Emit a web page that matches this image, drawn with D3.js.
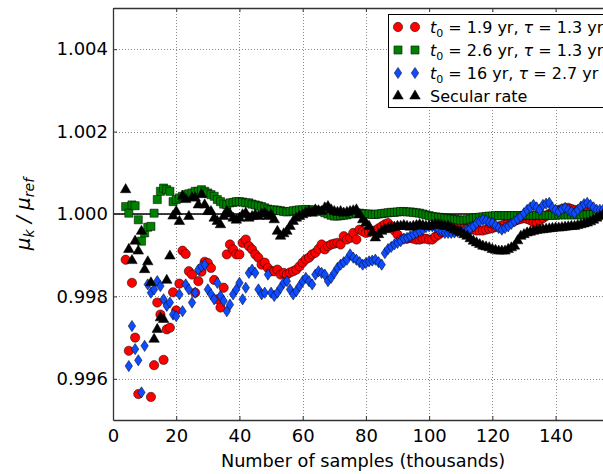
<!DOCTYPE html>
<html>
<head>
<meta charset="utf-8">
<script src="https://cdn.jsdelivr.net/npm/d3@7"></script>
<style>
  body { margin: 0; background: #fff; }
  svg { font-family: "DejaVu Sans", sans-serif; }
</style>
</head>
<body>
<div id="chart"></div>
<script>
// sample counts (thousands)
let samples = [4, 5, 6, 7, 8, 9, 10, 11, 12, 13, 14, 15, 16, 17, 18, 19, 20, 21, 22, 23, 24, 25, 26, 27, 28, 29,
  30, 31, 32, 33, 34, 35, 36, 37, 38, 39, 40, 41, 42, 43, 44, 45, 46, 47, 48, 49, 50, 51, 52, 53, 54, 55, 56, 57,
  58, 59, 60, 61, 62, 63, 64, 65, 66, 67, 68, 69, 70, 71, 72, 73, 74, 75, 76, 77, 78, 79, 80, 81, 82, 83, 84, 85,
  86, 87, 88, 89, 90, 91, 92, 93, 94, 95, 96, 97, 98, 99, 100, 101, 102, 103, 104, 105, 106, 107, 108, 109, 110,
  111, 112, 113, 114, 115, 116, 117, 118, 119, 120, 121, 122, 123, 124, 125, 126, 127, 128, 129, 130, 131, 132,
  133, 134, 135, 136, 137, 138, 139, 140, 141, 142, 143, 144, 145, 146, 147, 148, 149, 150, 151, 152, 153, 154, 155];

// t0 = 1.9 yr, tau = 1.3 yr
let redValues = [0.99889, 0.99668, 0.99833, 0.99700, 0.99563, null, null, null, 0.99556, 0.99633,
  0.99785, 0.99756, 0.99646, 0.99720, 0.99724, 0.99810, 0.99766, 0.99831, 0.99911, 0.99903, 0.99861, 0.99853,
  0.99809, 0.99837, 0.99860, 0.99884, 0.99881, 0.99869, 0.99840, 0.99793, 0.99773, 0.99821, 0.99902, 0.99926,
  0.99914, 0.99902, 0.99902, 0.99930, 0.99938, 0.99922, 0.99914, 0.99902, 0.99894, 0.99877, 0.99882, 0.99869,
  0.99861, 0.99861, 0.99865, 0.99853, 0.99857, 0.99853, 0.99858, 0.99861, 0.99865, 0.99873, 0.99882, 0.99890,
  0.99894, 0.99902, 0.99906, 0.99915, 0.99926, 0.99914, 0.99922, 0.99926, 0.99928, 0.99930, 0.99926, 0.99946,
  0.99938, 0.99942, 0.99954, 0.99938, 0.99962, 0.99958, 0.99954, 0.99956, 0.99958, 0.99960, 0.99965, 0.99970,
  0.99975, 0.99978, 0.99970, 0.99960, 0.99950, 0.99938, 0.99940, 0.99940, 0.99942, 0.99940, 0.99938, 0.99938,
  0.99940, 0.99940, 0.99938, 0.99938, 0.99945, 0.99950, 0.99955, 0.99960, 0.99965, 0.99970, 0.99970, 0.99970,
  0.99968, 0.99966, 0.99964, 0.99962, 0.99962, 0.99960, 0.99960, 0.99960, 0.99962, 0.99964, 0.99966, 0.99968,
  0.99970, 0.99972, 0.99975, 0.99978, 0.99980, 0.99983, 0.99986, 0.99988, 0.99990, 0.99988, 0.99985, 0.99980,
  0.99978, 0.99985, 0.99990, 0.99995, 1.00000, 1.00005, 1.00008, 1.00010, 1.00012, 1.00014, 1.00015, 1.00012,
  1.00010, 1.00008, 1.00006, 1.00005, 1.00004, 1.00003, 1.00002, 1.00001, 1.00000, 1.00000];

// t0 = 2.6 yr, tau = 1.3 yr
let greenValues = [1.00018, 1.00002, 1.00022, 1.00020, 0.99986, 0.99934, 0.99954, 0.99968, 0.99970, 1.00002,
  1.00035, 1.00055, 1.00063, 1.00059, 1.00055, 1.00030, 1.00035, 1.00039, 1.00043, 1.00047, 1.00049, 1.00051,
  1.00055, 1.00055, 1.00059, 1.00055, 1.00051, 1.00047, 1.00043, 1.00035, 1.00030, 1.00024, 1.00022, 1.00027,
  1.00028, 1.00030, 1.00030, 1.00029, 1.00027, 1.00027, 1.00024, 1.00022, 1.00020, 1.00018, 1.00015, 1.00012,
  1.00010, 1.00010, 1.00009, 1.00008, 1.00006, 1.00005, 1.00006, 1.00008, 1.00009, 1.00010, 1.00010, 1.00011,
  1.00010, 1.00010, 1.00009, 1.00008, 1.00006, 1.00003, 1.00000, 0.99997, 0.99995, 0.99995, 0.99996, 0.99997,
  0.99998, 1.00000, 1.00001, 1.00002, 1.00002, 1.00001, 1.00000, 1.00000, 0.99999, 0.99999, 1.00000, 1.00001,
  1.00002, 1.00003, 1.00004, 1.00004, 1.00005, 1.00006, 1.00006, 1.00005, 1.00005, 1.00004, 1.00003, 1.00002,
  1.00000, 0.99998, 0.99996, 0.99994, 0.99993, 0.99992, 0.99991, 0.99990, 0.99989, 0.99988, 0.99987, 0.99986,
  0.99985, 0.99985, 0.99986, 0.99988, 0.99990, 0.99991, 0.99992, 0.99993, 0.99994, 0.99995, 0.99995, 0.99996,
  0.99996, 0.99996, 0.99996, 0.99996, 0.99996, 0.99996, 0.99996, 0.99996, 0.99996, 0.99997, 0.99997, 0.99997,
  0.99997, 0.99997, 0.99997, 0.99997, 0.99997, 0.99997, 0.99997, 0.99998, 0.99998, 0.99998, 0.99998, 0.99998,
  0.99998, 0.99998, 0.99998, 0.99998, 0.99998, 0.99999, 0.99999, 1.00000, 1.00000, 1.00000];

// t0 = 16 yr, tau = 2.7 yr
let blueValues = [null, 0.99631, 0.99728, 0.99672, 0.99645, 0.99567, 0.99680, 0.99829, 0.99809, 0.99817,
  0.99837, 0.99825, 0.99793, 0.99777, 0.99785, 0.99756, 0.99752, 0.99805, 0.99764, 0.99829, 0.99817, 0.99785,
  0.99809, 0.99865, 0.99873, 0.99877, 0.99817, 0.99805, 0.99793, 0.99833, 0.99801, 0.99789, 0.99764, 0.99780,
  0.99805, 0.99817, 0.99833, 0.99793, 0.99821, 0.99857, 0.99865, 0.99857, 0.99817, 0.99805, 0.99809, 0.99853,
  0.99809, 0.99801, 0.99809, 0.99821, 0.99833, 0.99837, 0.99817, 0.99805, 0.99813, 0.99825, 0.99837, 0.99845,
  0.99837, 0.99829, 0.99853, 0.99861, 0.99857, 0.99853, 0.99837, 0.99845, 0.99857, 0.99869, 0.99877, 0.99883,
  0.99889, 0.99902, 0.99894, 0.99889, 0.99883, 0.99877, 0.99881, 0.99885, 0.99887, 0.99889, 0.99883, 0.99877,
  0.99905, 0.99915, 0.99920, 0.99926, 0.99930, 0.99934, 0.99940, 0.99942, 0.99946, 0.99950, 0.99954, 0.99958,
  0.99962, 0.99968, 0.99970, 0.99970, 0.99968, 0.99962, 0.99958, 0.99954, 0.99954, 0.99954, 0.99955, 0.99957,
  0.99958, 0.99958, 0.99960, 0.99965, 0.99970, 0.99978, 0.99982, 0.99986, 0.99984, 0.99980, 0.99978, 0.99972,
  0.99966, 0.99962, 0.99966, 0.99970, 0.99976, 0.99982, 0.99988, 0.99994, 1.00002, 1.00010, 1.00016, 1.00022,
  1.00016, 1.00010, 1.00022, 1.00025, 1.00027, 1.00015, 1.00010, 1.00006, 1.00012, 1.00015, 1.00010, 1.00006,
  1.00002, 1.00010, 1.00018, 1.00024, 1.00027, 1.00022, 1.00016, 1.00010, 1.00010, 1.00010];

// secular rate
let blackValues = [1.00059, 0.99914, 0.99887, 0.99934, 0.99910, 0.99958, 0.99865, 0.99884, 0.99833, 0.99696,
  0.99720, 0.99748, 0.99744, 0.99839, 0.99898, 0.99995, 1.00006, 0.99982, 1.00043, 1.00035, 0.99994, 1.00039,
  1.00039, 1.00022, 1.00047, 1.00022, 1.00006, 1.00006, 0.99990, 0.99982, 0.99974, 0.99994, 1.00006, 1.00000,
  0.99990, 0.99985, 0.99990, 0.99998, 1.00002, 0.99990, 0.99994, 0.99998, 0.99994, 1.00000, 1.00002, 0.99994,
  0.99998, 0.99986, 0.99958, 0.99946, 0.99952, 0.99958, 0.99970, 0.99982, 0.99990, 0.99994, 0.99998, 1.00002,
  1.00006, 1.00002, 1.00010, 1.00008, 1.00006, 1.00015, 1.00018, 1.00010, 1.00006, 1.00004, 1.00006, 1.00002,
  1.00004, 1.00006, 1.00008, 1.00010, 0.99998, 0.99986, 0.99978, 0.99970, 0.99955, 0.99942, 0.99950, 0.99958,
  0.99962, 0.99964, 0.99966, 0.99968, 0.99970, 0.99970, 0.99972, 0.99970, 0.99968, 0.99970, 0.99972, 0.99974,
  0.99972, 0.99970, 0.99970, 0.99972, 0.99974, 0.99974, 0.99972, 0.99970, 0.99970, 0.99966, 0.99962, 0.99958,
  0.99955, 0.99950, 0.99946, 0.99940, 0.99934, 0.99930, 0.99926, 0.99922, 0.99920, 0.99918, 0.99914, 0.99912,
  0.99910, 0.99910, 0.99910, 0.99914, 0.99918, 0.99922, 0.99935, 0.99946, 0.99950, 0.99954, 0.99956, 0.99958,
  0.99960, 0.99961, 0.99962, 0.99963, 0.99964, 0.99965, 0.99966, 0.99966, 0.99967, 0.99968, 0.99969, 0.99970,
  0.99970, 0.99972, 0.99974, 0.99976, 0.99978, 0.99981, 0.99985, 0.99990, 0.99994, 0.99998];

let xTicks = [0, 20, 40, 60, 80, 100, 120, 140];
let yTicks = [0.996, 0.998, 1.000, 1.002, 1.004];

let width = 603,
  height = 474;
let margin = { left: 113, right: 603, top: 8, bottom: 420 };

// matplotlib style thin diamond ('d')
let thinDiamond = {
  draw(context, size) {
    let h = Math.sqrt(size) * 0.95, w = h * 0.66;
    context.moveTo(0, -h);
    context.lineTo(w, 0);
    context.lineTo(0, h);
    context.lineTo(-w, 0);
    context.closePath();
  }
};

let series = [
  { key: "red", values: redValues, color: "#ff0000", symbol: d3.symbolCircle, size: 68, label: ["1.9", "1.3"] },
  { key: "green", values: greenValues, color: "#008000", symbol: d3.symbolSquare, size: 66, label: ["2.6", "1.3"] },
  { key: "blue", values: blueValues, color: "#0f4cff", symbol: thinDiamond, size: 35, label: ["16", "2.7"] },
  { key: "black", values: blackValues, color: "#000000", symbol: d3.symbolTriangle, size: 48, label: null }
];

let x = d3.scaleLinear().domain([0, 155]).range([margin.left, margin.right]);
let y = d3.scaleLinear().domain([0.995, 1.005]).range([margin.bottom, margin.top]);

let svg = d3.select("#chart").append("svg")
  .attr("width", width)
  .attr("height", height);

// grid
let grid = svg.append("g")
  .attr("stroke", "#8a8a8a")
  .attr("stroke-width", 1)
  .attr("stroke-dasharray", "1,2");
grid.selectAll("line.vx")
  .data(xTicks.slice(1))
  .enter().append("line")
  .attr("x1", d => Math.round(x(d)) + 0.5).attr("x2", d => Math.round(x(d)) + 0.5)
  .attr("y1", margin.top).attr("y2", margin.bottom);
grid.selectAll("line.hy")
  .data(yTicks)
  .enter().append("line")
  .attr("x1", margin.left).attr("x2", margin.right)
  .attr("y1", d => Math.round(y(d)) + 0.5).attr("y2", d => Math.round(y(d)) + 0.5);

// reference line at 1
svg.append("line")
  .attr("x1", margin.left).attr("x2", margin.right)
  .attr("y1", y(1)).attr("y2", y(1))
  .attr("stroke", "#000")
  .attr("stroke-width", 1.6);

// markers
series.forEach(s => {
  let pts = samples.map((n, i) => ({ n: n, v: s.values[i] })).filter(d => d.v != null);
  svg.append("g")
    .selectAll("path")
    .data(pts)
    .enter().append("path")
    .attr("d", d3.symbol().type(s.symbol).size(s.size))
    .attr("transform", d => "translate(" + x(d.n) + "," + y(d.v) + ")")
    .attr("fill", s.color)
    .attr("stroke", "#000")
    .attr("stroke-width", 0.5);
});

// axes: ticks inside, matplotlib classic look
let xAxis = svg.append("g")
  .attr("transform", "translate(0," + margin.bottom + ")")
  .call(d3.axisBottom(x).tickValues(xTicks).tickSizeInner(-4).tickSizeOuter(0).tickPadding(9).tickFormat(d3.format("d")));
let xAxisTop = svg.append("g")
  .attr("transform", "translate(0," + margin.top + ")")
  .call(d3.axisTop(x).tickValues(xTicks).tickSizeInner(-4).tickSizeOuter(0).tickFormat(""));
let yAxis = svg.append("g")
  .attr("transform", "translate(" + margin.left + ",0)")
  .call(d3.axisLeft(y).tickValues(yTicks).tickSizeInner(-4).tickSizeOuter(0).tickPadding(5).tickFormat(d3.format(".3f")));

[xAxis, xAxisTop, yAxis].forEach(a => {
  a.select(".domain").attr("stroke", "#333").attr("stroke-width", 1.3);
  a.selectAll(".tick line").attr("stroke", "#333");
  a.selectAll("text")
    .attr("font-family", "DejaVu Sans")
    .attr("font-size", "18px")
    .attr("fill", "#000");
});
xAxis.selectAll("text").attr("dy", "0.72em");

// axis labels
svg.append("text")
  .attr("x", 363)
  .attr("y", 467)
  .attr("text-anchor", "middle")
  .attr("font-size", "17.7px")
  .text("Number of samples (thousands)");

let yLabel = svg.append("text")
  .attr("transform", "translate(30," + 214 + ") rotate(-90)")
  .attr("text-anchor", "middle")
  .attr("font-size", "20px")
  .attr("font-style", "italic");
yLabel.append("tspan").text("μ");
yLabel.append("tspan").attr("font-size", "14px").attr("dy", 4).text("k");
yLabel.append("tspan").attr("dy", -4).text(" / μ");
yLabel.append("tspan").attr("font-size", "14px").attr("dy", 4).text("ref");

// legend
let legend = svg.append("g");
legend.append("rect")
  .attr("x", 388.5).attr("y", 14.5)
  .attr("width", 230).attr("height", 93)
  .attr("fill", "#fff")
  .attr("stroke", "#000")
  .attr("stroke-width", 1);

series.forEach((s, i) => {
  let ry = 27 + i * 23;
  [398, 415].forEach(mx => {
    legend.append("path")
      .attr("d", d3.symbol().type(s.symbol).size(s.size)())
      .attr("transform", "translate(" + mx + "," + ry + ")")
      .attr("fill", s.color)
      .attr("stroke", "#000")
      .attr("stroke-width", 0.5);
  });
  let t = legend.append("text")
    .attr("x", 430)
    .attr("y", ry + 6)
    .attr("font-size", "16px");
  if (s.label) {
    t.append("tspan").attr("font-style", "italic").text("t");
    t.append("tspan").attr("font-size", "11px").attr("dy", 4).text("0");
    t.append("tspan").attr("dy", -4).text(" = " + s.label[0] + " yr, ");
    t.append("tspan").attr("font-style", "italic").text("τ");
    t.append("tspan").text(" = " + s.label[1] + " yr");
  } else {
    t.text("Secular rate");
  }
});
</script>
</body>
</html>
